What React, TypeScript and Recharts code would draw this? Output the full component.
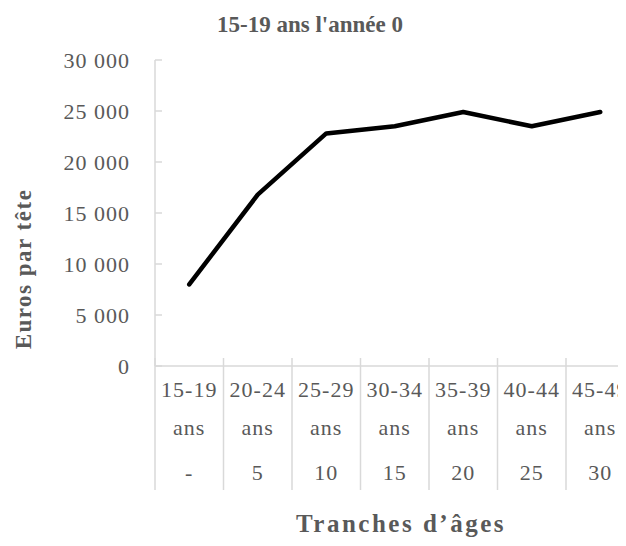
import { LineChart, Line, XAxis, YAxis } from 'recharts';

const ageGroups = ['15-19', '20-24', '25-29', '30-34', '35-39', '40-44', '45-49'];
const yearsLater = ['-', '5', '10', '15', '20', '25', '30'];
const eurosPerHead = [8000, 16800, 22800, 23500, 24900, 23500, 24900];
const yTicks = [0, 5000, 10000, 15000, 20000, 25000, 30000];

const data = ageGroups.map((g, i) => ({ group: g, value: eurosPerHead[i] }));

const FONT = "'Liberation Serif', 'Times New Roman', serif";
const GREY = '#595959';
const AXIS = '#d9d9d9';
const CHART_W = 660;
const CHART_H = 530;
const MARGIN = { top: 52, right: 33.5, bottom: 0, left: 0 };
const Y_W = 147;
const STEP = (CHART_W - MARGIN.left - MARGIN.right - Y_W) / ageGroups.length;

const fmt = (v: number) => String(v).replace(/\B(?=(\d{3})+(?!\d))/g, ' ');

function AgeTick({ x, y, payload }: any) {
  const i = ageGroups.indexOf(payload.value);
  const txt = { fill: GREY, fontFamily: FONT, fontSize: 22, letterSpacing: 1, textAnchor: 'middle' as const };
  return (
    <g>
      <line x1={x - STEP / 2} x2={x - STEP / 2} y1={y - 8} y2={y + 124} stroke={AXIS} strokeWidth={1.5} />
      {i === ageGroups.length - 1 && (
        <line x1={x + STEP / 2} x2={x + STEP / 2} y1={y - 8} y2={y + 124} stroke={AXIS} strokeWidth={1.5} />
      )}
      <text x={x} y={y + 31} {...txt}>{ageGroups[i]}</text>
      <text x={x} y={y + 69} {...txt}>ans</text>
      <text x={x} y={y + 114} {...txt}>{yearsLater[i]}</text>
    </g>
  );
}

function EuroTick({ x, y, payload }: any) {
  return (
    <g>
      <line x1={x} x2={x + 7} y1={y} y2={y} stroke={AXIS} strokeWidth={1.5} />
      <text x={x - 25} y={y} dy="0.35em" textAnchor="end" fill={GREY} fontFamily={FONT} fontSize={22} letterSpacing={1}>
        {fmt(payload.value)}
      </text>
    </g>
  );
}

export default function App() {
  return (
    <div style={{ position: 'relative', width: 618, height: CHART_H, overflow: 'hidden' }}>
      <div
        style={{
          position: 'absolute', left: 0, top: 5, width: 604, textAlign: 'center',
          fontFamily: FONT, fontWeight: 'bold', fontSize: 23, lineHeight: '23px', color: GREY,
        }}
      >
        15-19 ans l'année 0
      </div>
      <LineChart width={CHART_W} height={CHART_H} data={data} margin={MARGIN}>
        <XAxis
          dataKey="group"
          scale="band"
          interval={0}
          height={CHART_H - 358}
          axisLine={{ stroke: AXIS, strokeWidth: 1.5 }}
          tickLine={false}
          tickSize={0}
          tickMargin={0}
          tick={<AgeTick />}
          label={{
            content: () => (
              <text x={393} y={524} textAnchor="middle" fill={GREY} fontFamily={FONT} fontWeight="bold" fontSize={25} letterSpacing={2.5}>
                Tranches d’âges
              </text>
            ),
          }}
        />
        <YAxis
          width={Y_W}
          domain={[0, 30000]}
          ticks={yTicks}
          interval={0}
          axisLine={{ stroke: AXIS, strokeWidth: 1.5 }}
          tickLine={false}
          tickSize={0}
          tickMargin={0}
          tick={<EuroTick />}
          label={{
            content: () => (
              <text x={23} y={261} transform="rotate(-90 23 261)" textAnchor="middle" fill={GREY} fontFamily={FONT} fontWeight="bold" fontSize={23} letterSpacing={1.5}>
                Euros par tête
              </text>
            ),
          }}
        />
        <Line
          dataKey="value"
          stroke="#000"
          strokeWidth={4.5}
          strokeLinejoin="round"
          strokeLinecap="round"
          dot={false}
          activeDot={false}
          isAnimationActive={false}
        />
      </LineChart>
    </div>
  );
}
